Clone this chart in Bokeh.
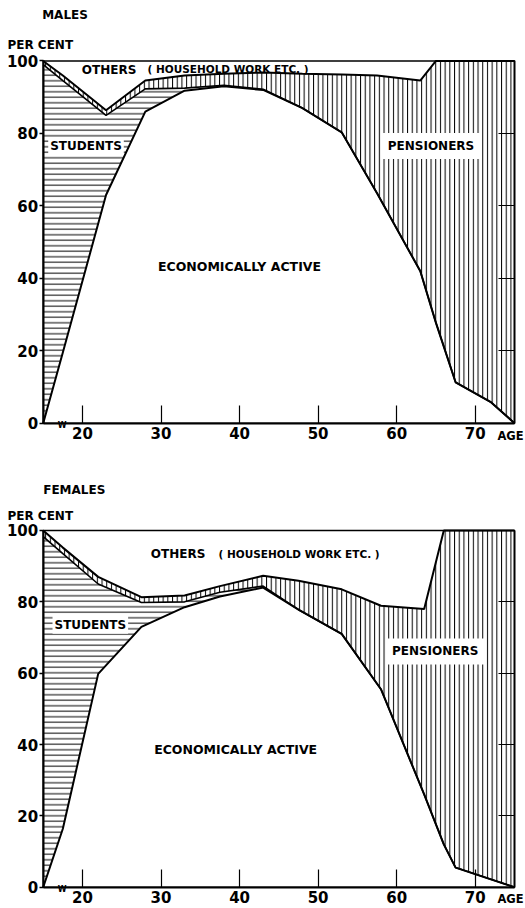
import numpy as np
from bokeh.plotting import figure
from bokeh.models import Label, LinearAxis, FixedTicker, Range1d, BoxAnnotation
from bokeh.layouts import column
from bokeh.embed import file_html
from bokeh.resources import INLINE

# ---- data (per cent of age group) ----
x_ticks = [20, 30, 40, 50, 60, 70]
y_ticks = [0, 20, 40, 60, 80, 100]
right_ticks = [20, 40, 60, 80]

male_age = [15, 17.5, 23, 28, 33, 38, 43, 48, 53, 57.5, 63, 65, 67.5, 72, 75]
male_active = [0, 19.5, 63, 86, 91.8, 93, 92, 87, 80.3, 63.5, 42, 27.7, 11.3, 5.8, 0]
male_students = [99, 75.1, 22, 6.3, 0.7, 0.3, 0.2, 0, 0, 0, 0, 0, 0, 0, 0]
male_pensioners = [1, 1.4, 1.4, 2.3, 3.5, 3.2, 4.6, 9.5, 16, 32.5, 52.6, 72.3, 88.7, 94.2, 100]

female_age = [15, 17.5, 22, 27.5, 33, 37.5, 43, 47.5, 53, 58, 63.5, 66, 67.5, 75]
female_active = [0, 16.4, 59.8, 73, 78.5, 81.5, 84, 77.8, 71, 55.5, 26, 12, 5.5, 0]
female_students = [98.3, 77.1, 25.2, 6.8, 1.5, 1.2, 0.4, 0, 0, 0, 0, 0, 0, 0]
female_pensioners = [1.7, 1.7, 2.0, 1.5, 1.8, 1.7, 2.9, 8.1, 12.5, 23.4, 52, 88, 94.5, 100]

AGE_MIN, AGE_MAX = 15, 75
PCT_MIN, PCT_MAX = 0, 100

FONT = "DejaVu Sans"


def lab(p, text, x, y, size, align="center", baseline="middle", bg=None, pad=0, y_offset=0):
    kw = {}
    if bg is not None:
        kw = dict(background_fill_color=bg, padding=pad)
    p.add_layout(Label(x=x, y=y, text=text, text_font=FONT, text_font_style="bold",
                       text_font_size=size, text_align=align, text_baseline=baseline,
                       text_color="black", y_offset=y_offset, **kw))


def panel(title, age, active, students, pensioners, pos, height, yr):
    a = np.array(active, dtype=float)
    l2 = a + np.array(students, dtype=float)
    l3 = l2 + np.array(pensioners, dtype=float)
    p = figure(width=525, height=height, x_range=Range1d(9.564, 76.40), y_range=Range1d(*yr),
               output_backend="svg", toolbar_location=None,
               min_border_left=0, min_border_right=0, min_border_top=0, min_border_bottom=0)
    p.background_fill_color = "white"
    p.border_fill_color = "white"
    p.xgrid.visible = False
    p.ygrid.visible = False
    p.outline_line_color = None

    p.varea(x=age, y1=a, y2=l2, fill_color="white", hatch_pattern="horizontal_line",
            hatch_scale=5.5, hatch_weight=1, hatch_color="black")
    p.varea(x=age, y1=l2, y2=l3, fill_color="white", hatch_pattern="vertical_line",
            hatch_scale=4.7, hatch_weight=1, hatch_color="black")
    p.line(age, a, line_color="black", line_width=2)
    p.line(age, l2, line_color="black", line_width=1.6)
    p.line(age, l3, line_color="black", line_width=2)

    p.add_layout(BoxAnnotation(left=AGE_MIN, right=AGE_MAX, bottom=PCT_MIN, top=PCT_MAX,
                               fill_color=None, fill_alpha=0, line_color="black",
                               line_alpha=1.0, line_width=1.6))

    xa = p.xaxis[0]
    xa.fixed_location = PCT_MIN
    xa.bounds = (AGE_MIN, AGE_MAX)
    xa.ticker = FixedTicker(ticks=x_ticks)
    xa.major_tick_in = 18
    xa.major_tick_out = 0
    xa.minor_tick_line_color = None
    xa.axis_line_width = 2
    xa.axis_line_color = "black"
    xa.major_tick_line_width = 1.2
    xa.major_tick_line_color = "black"
    xa.major_label_standoff = 4
    xa.major_label_text_font = FONT
    xa.major_label_text_font_style = "bold"
    xa.major_label_text_font_size = "15px"
    xa.major_label_text_color = "black"

    ya = p.yaxis[0]
    ya.fixed_location = AGE_MIN
    ya.bounds = (PCT_MIN, PCT_MAX)
    ya.ticker = FixedTicker(ticks=y_ticks)
    ya.major_tick_in = 0
    ya.major_tick_out = 4
    ya.minor_tick_line_color = None
    ya.axis_line_width = 2
    ya.axis_line_color = "black"
    ya.major_tick_line_width = 1.5
    ya.major_tick_line_color = "black"
    ya.major_label_standoff = 1
    ya.major_label_text_font = FONT
    ya.major_label_text_font_style = "bold"
    ya.major_label_text_font_size = "15px"
    ya.major_label_text_color = "black"

    ra = LinearAxis(ticker=FixedTicker(ticks=right_ticks), fixed_location=AGE_MAX,
                    bounds=(PCT_MIN, PCT_MAX), major_tick_in=16, major_tick_out=0,
                    minor_tick_line_color=None, major_label_standoff=0,
                    major_label_overrides={t: "" for t in right_ticks},
                    major_label_text_font_size="1px", axis_line_width=1.6,
                    axis_line_color="black", major_tick_line_color="black",
                    major_tick_line_width=1.2)
    p.add_layout(ra, "right")

    lab(p, title, pos["title"][0], pos["title"][1], "12px", align="left")
    lab(p, "PER CENT", pos["pc"][0], pos["pc"][1], "12px", align="left")
    lab(p, "OTHERS", *pos["others"], "12px")
    lab(p, "( HOUSEHOLD WORK ETC. )", *pos["house"], "10.5px")
    lab(p, "STUDENTS", *pos["students"], "12px", bg="white", pad=2)
    lab(p, "PENSIONERS", *pos["pens"], "12px", bg="white", pad=6)
    lab(p, "ECONOMICALLY ACTIVE", *pos["econ"], "12.5px")
    lab(p, "AGE", *pos["age"], "11.5px")
    lab(p, "W", 17.4, 0, "8px", y_offset=-2)
    return p


male_pos = dict(title=(14.87, 112.56), pc=(10.45, 104.28), others=(23.38, 97.65),
                house=(38.53, 97.9), students=(20.45, 76.5), pens=(64.37, 76.5),
                econ=(39.99, 43.3), age=(74.49, -3.4))
female_pos = dict(title=(15.0, 111.41), pc=(10.45, 104.2), others=(32.17, 93.47),
                  house=(47.57, 93.47), students=(21.0, 73.6), pens=(64.9, 66.1),
                  econ=(39.5, 38.5), age=(74.49, -3.17))

p1 = panel("MALES", male_age, male_active, male_students, male_pensioners, male_pos,
           460, (-10.30, 116.70))
p2 = panel("FEMALES", female_age, female_active, female_students, female_pensioners, female_pos,
           448, (-5.97, 119.62))

layout = column(p1, p2, spacing=0)
open("out.html", "w").write(file_html(layout, INLINE))
